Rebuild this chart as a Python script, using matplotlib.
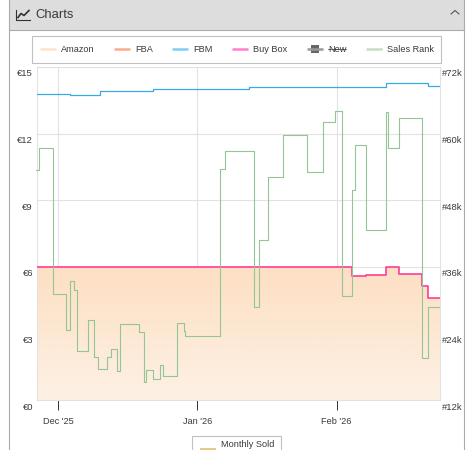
import numpy as np
import matplotlib
matplotlib.use('Agg')
import matplotlib.pyplot as plt
from matplotlib.patches import Rectangle, Polygon

plt.rcParams['font.family'] = ['Liberation Sans', 'DejaVu Sans']

# days are counted from 1 Dec 2025
TICK_DAYS = [0, 31, 62]
TICK_LABELS = ["Dec '25", "Jan '26", "Feb '26"]
PRICE_TICKS = [0, 3, 6, 9, 12, 15]
PRICE_LABELS = ['€0', '€3', '€6', '€9', '€12', '€15']
RANK_TICKS = [12000, 24000, 36000, 48000, 60000, 72000]
RANK_LABELS = ['#12k', '#24k', '#36k', '#48k', '#60k', '#72k']
DAY_MIN = -4.78
DAY_MAX = 84.89

fbm_days = [-4.78, 2.62, 9.29, 21.16, 42.49, 61.51, 72.93, 82.4]
fbm_price = [13.80, 13.75, 13.91, 14.01, 14.11, 14.09, 14.27, 14.16]

buybox_days = [-4.78, 65.51, 68.62, 72.93, 75.96, 80.93, 82.4]
buybox_price = [6.00, 5.60, 5.64, 6.00, 5.69, 5.14, 4.61]

amazon_days = [-4.78, 65.51, 68.62, 72.93, 75.96, 80.93, 82.4]
amazon_price = [6.00, 5.60, 5.64, 6.00, 5.69, 5.14, 4.61]

rank_days = [-4.78, -4.27, -1.16, 1.73, 2.71, 3.6, 4.18, 6.71, 7.96, 8.84,
             10.93, 11.73, 13.16, 13.73, 17.96, 19.07, 19.67, 21.16, 22.62, 23.29,
             26.4, 28.04, 28.33, 35.96, 37.16, 43.51, 44.67, 46.84, 49.96, 55.38,
             58.93, 61.6, 63.22, 65.51, 66.11, 68.62, 73.0, 73.38, 75.96, 80.93, 82.4]
rank_values = [53530, 57400, 31100, 24670, 33390, 31820, 20780, 26360, 19800, 17640,
               19690, 21240, 17230, 25640, 24310, 15300, 17460, 15730, 18250, 16380,
               25820, 24380, 23480, 53620, 56920, 28700, 40830, 52180, 59690, 53030,
               62090, 64020, 30740, 49840, 58000, 42680, 63950, 57400, 62760, 19620, 28700]

LEGEND_NAMES = ['Amazon', 'FBA', 'FBM', 'Buy Box', 'New', 'Sales Rank']

W, H = 474, 450
TEXT = '#3a3a3a'
fig = plt.figure(figsize=(W / 100, H / 100), dpi=100, facecolor='white')

# page furniture, in pixels from the top left
page = fig.add_axes([0, 0, 1, 1], zorder=0)
page.set_xlim(0, W)
page.set_ylim(H, 0)
page.axis('off')
page.add_patch(Rectangle((9.5, -5), 454.5, 34.5, fc='#dddddd', ec='#ababab', lw=0.8))
page.plot([9.5, 9.5], [29, H], color='#ababab', lw=0.8)
page.plot([464, 464], [29, H], color='#ababab', lw=0.8)
page.text(35, 15, 'Charts', fontsize=9.4, color=TEXT, va='center')
page.plot([16, 16, 30], [10, 19.5, 19.5], color='#333333', lw=0.8)
page.plot([18, 21, 24, 29], [17.5, 13.5, 15.5, 10.5], color='#333333', lw=1.2)
page.plot([451, 455, 459], [14, 10.5, 14], color='#555555', lw=0.8)

page.add_patch(Rectangle((32.5, 35.5), 409, 27, fc='white', ec='#c0c0c0', lw=0.8))
page.add_patch(Rectangle((192.5, 435.5), 89, 30, fc='white', ec='#c0c0c0', lw=0.8))
page.add_patch(Rectangle((200, 448), 16, 3, fc='#e8cc85', ec='none'))
page.text(221, 444.5, 'Monthly Sold', fontsize=6.6, color=TEXT, va='center')

key_x = [40, 114, 172, 232, 307, 366]
text_x = [61, 135, 193.5, 253.5, 328, 387]
key_colors = ['#fde3c8', '#ffa98f', '#7fcdf5', '#ff7fd0', '#999999', '#c6dfc4']
for name, kx, tx, c in zip(LEGEND_NAMES, key_x, text_x, key_colors):
    page.plot([kx, kx + 16], [49, 49], color=c, lw=1.8, solid_capstyle='butt')
    page.text(tx, 49, name, fontsize=6.6, color=TEXT, va='center')
page.add_patch(Rectangle((311, 45), 8, 8, fc='#666666', ec='none'))
page.plot([328, 346], [49, 49], color='#555555', lw=0.6)

# the chart
ax = fig.add_axes([36.5 / W, 1 - 400 / H, 403 / W, 333 / H], zorder=1)
ax.patch.set_alpha(0)
ax.set_xlim(DAY_MIN, DAY_MAX)
ax.set_ylim(0, 15)
ax.set_yticks(PRICE_TICKS)
ax.set_yticklabels(PRICE_LABELS)
ax.set_xticks(TICK_DAYS)
ax.set_xticklabels(TICK_LABELS)
ax.grid(color='#e2e2e2', lw=0.8)
ax.set_axisbelow(True)
for s in ax.spines.values():
    s.set_color('#e2e2e2')
    s.set_linewidth(0.8)
ax.tick_params(axis='x', length=7.5, width=0.7, color='#333333', labelsize=6.6,
               labelcolor=TEXT, pad=4.5)
ax.tick_params(axis='y', length=0, labelsize=6.8, labelcolor=TEXT, pad=2.5)

# amazon gradient, clipped to the step outline
amz_x = amazon_days + [DAY_MAX]
amz_y = amazon_price + [amazon_price[-1]]
step_x = np.repeat(amz_x, 2)[1:]
step_y = np.repeat(amz_y, 2)[:-1]
outline = np.column_stack([np.r_[step_x, DAY_MAX, DAY_MIN], np.r_[step_y, 0, 0]])
clip = Polygon(outline, closed=True, transform=ax.transData, fc='none', ec='none')
ax.add_patch(clip)
top = np.array([253, 223, 195]) / 255
bottom = np.array([253, 241, 229]) / 255
t = np.linspace(0, 1, 128)[:, None, None]
grad = top + (bottom - top) * t
im = ax.imshow(grad, extent=[DAY_MIN, DAY_MAX, 0, max(amazon_price)], aspect='auto',
               zorder=1.5, interpolation='bilinear')
im.set_clip_path(clip)
ax.set_xlim(DAY_MIN, DAY_MAX)
ax.set_ylim(0, 15)

ax.step(fbm_days + [DAY_MAX], fbm_price + [fbm_price[-1]], where='post',
        color='#3aa9e4', lw=0.9, zorder=3)
ax.step(buybox_days + [DAY_MAX], buybox_price + [buybox_price[-1]], where='post',
        color='#ff3d94', lw=1.2, zorder=4)

rank = ax.twinx()
rank.set_ylim(12000, 72000)
rank.set_yticks(RANK_TICKS)
rank.set_yticklabels(RANK_LABELS)
rank.tick_params(axis='y', length=0, labelsize=6.8, labelcolor=TEXT, pad=1.5)
for s in rank.spines.values():
    s.set_visible(False)
rank.step(rank_days + [DAY_MAX], rank_values + [rank_values[-1]], where='post',
          color='#93c595', lw=0.8, zorder=5)

# tick labels sit about 6 px below their gridlines
shift = matplotlib.transforms.ScaledTranslation(0, -6 / 100, fig.dpi_scale_trans)
for lab in ax.get_yticklabels() + rank.get_yticklabels():
    lab.set_transform(lab.get_transform() + shift)

fig.savefig('out.png', dpi=100)
